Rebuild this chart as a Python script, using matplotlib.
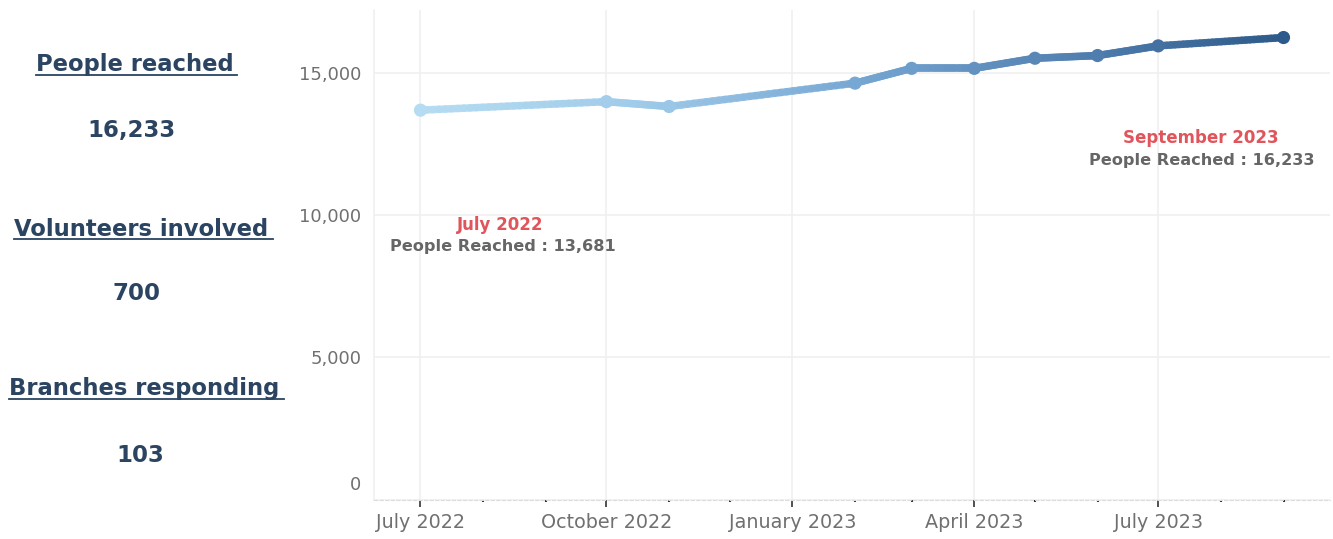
import matplotlib
matplotlib.use("Agg")
import matplotlib.pyplot as plt
import matplotlib.dates as mdates
from matplotlib.collections import LineCollection
from matplotlib.colors import LinearSegmentedColormap
from matplotlib.transforms import ScaledTranslation
from matplotlib.lines import Line2D
import numpy as np
import datetime as dt

# ---- data ----
months = ["2022-07-01", "2022-10-01", "2022-11-01", "2023-02-01", "2023-03-01",
          "2023-04-01", "2023-05-01", "2023-06-01", "2023-07-01", "2023-09-01"]
people_reached = [13681, 13980, 13810, 14630, 15150, 15150, 15505, 15600, 15940, 16233]

stat_labels = ["People reached", "Volunteers involved", "Branches responding"]
stat_values = ["16,233", "700", "103"]

y_ticks = [0, 5000, 10000, 15000]
x_ticks = ["2022-07-01", "2022-10-01", "2023-01-01", "2023-04-01", "2023-07-01"]
x_tick_labels = ["July 2022", "October 2022", "January 2023", "April 2023", "July 2023"]

first_note = ("July 2022", "People Reached : 13,681")
last_note = ("September 2023", "People Reached : 16,233")

# ---- style ----
FONT = "DejaVu Sans"
NAVY = "#2b4462"
RED = "#e0555b"
GREY = "#666666"
TICK_GREY = "#707070"
W, H = 1333, 539

plt.rcParams["font.family"] = [FONT]
fig = plt.figure(figsize=(W / 100, H / 100), dpi=100)

def fx(px):
    return px / W

def fy(py):
    return 1 - py / H

ax = fig.add_axes([fx(374), fy(499.6), fx(1330) - fx(374), fy(10) - fy(499.6)])

dates = [dt.datetime.strptime(m, "%Y-%m-%d") for m in months]
xn = mdates.date2num(dates)
yv = np.array(people_reached, dtype=float)

cmap = LinearSegmentedColormap.from_list(
    "grad", [(0.0, "#b5dcf2"), (0.25, "#a0cbea"), (0.5, "#77a8d4"), (0.75, "#5482b2"), (1.0, "#2d5a8a")])
x0, x1 = xn[0], xn[-1]

segs, cols = [], []
for i in range(len(xn) - 1):
    n = 30
    ts = np.linspace(0, 1, n + 1)
    sx = xn[i] + (xn[i + 1] - xn[i]) * ts
    sy = yv[i] + (yv[i + 1] - yv[i]) * ts
    for j in range(n):
        segs.append([(sx[j], sy[j]), (sx[j + 1], sy[j + 1])])
        cols.append(cmap(((sx[j] + sx[j + 1]) / 2 - x0) / (x1 - x0)))
lc = LineCollection(segs, colors=cols, linewidths=5.4, alpha=0.9, capstyle="round", zorder=3)
ax.add_collection(lc)
ax.scatter(xn, yv, s=90, c=[cmap((v - x0) / (x1 - x0)) for v in xn], zorder=4, linewidths=0)

ax.set_xlim(mdates.date2num(dt.datetime(2022, 6, 8)), mdates.date2num(dt.datetime(2023, 9, 24)))
ax.set_ylim(0, 17200)

xt = [mdates.date2num(dt.datetime.strptime(t, "%Y-%m-%d")) for t in x_ticks]
ax.set_xticks(xt)
ax.set_xticklabels(x_tick_labels)
ax.xaxis.set_minor_locator(mdates.MonthLocator())
ax.set_yticks(y_ticks)
ax.set_yticklabels([f"{v:,}" for v in y_ticks])

ax.grid(True, which="major", color="#efefef", linewidth=1.1)
ax.set_axisbelow(True)
for s in ["top", "right"]:
    ax.spines[s].set_visible(False)
ax.spines["left"].set_color("#efefef")
ax.spines["left"].set_linewidth(1.1)
ax.spines["bottom"].set_color("#dcdcdc")
ax.spines["bottom"].set_linestyle((0, (3, 2)))
ax.spines["bottom"].set_linewidth(0.8)

ax.tick_params(axis="x", which="major", length=5, width=1.2, color="#333333",
               labelsize=13.8, labelcolor=TICK_GREY, pad=5)
ax.tick_params(axis="x", which="minor", length=1.5, width=1.5, color="#333333")
ax.tick_params(axis="y", length=0, labelsize=13, labelcolor=TICK_GREY, pad=9)

# raise the "0" label like the reference
zl = ax.yaxis.get_major_ticks()[0].label1
zl.set_transform(zl.get_transform() + ScaledTranslation(0, 12 / 72, fig.dpi_scale_trans))

# annotations
fig.text(fx(500), fy(225), first_note[0], color=RED, fontsize=12, fontweight="bold",
         ha="center", va="center")
fig.text(fx(503), fy(247), first_note[1], color=GREY, fontsize=11.6, fontweight="bold",
         ha="center", va="center")
fig.text(fx(1201), fy(138), last_note[0], color=RED, fontsize=12, fontweight="bold",
         ha="center", va="center")
fig.text(fx(1202), fy(160), last_note[1], color=GREY, fontsize=11.6, fontweight="bold",
         ha="center", va="center")

# left stats panel
head_pos = [(134.5, 64, 75.5), (141.5, 229, 239.5), (144.5, 389, 399)]
val_pos = [(131, 131), (136, 294), (140, 455)]
heads = []
for (lab, (hx, hy, uy)) in zip(stat_labels, head_pos):
    t = fig.text(fx(hx), fy(hy), lab, color=NAVY, fontsize=16.3, fontweight="bold",
                 ha="center", va="center")
    heads.append((t, uy))
for v, (vx, vy) in zip(stat_values, val_pos):
    fig.text(fx(vx), fy(vy), v, color=NAVY, fontsize=16.5, fontweight="bold",
             ha="center", va="center")

fig.canvas.draw()
r = fig.canvas.get_renderer()
for t, uy in heads:
    bb = t.get_window_extent(r)
    fig.add_artist(Line2D([bb.x0 / W, (bb.x1 + 4) / W], [fy(uy), fy(uy)],
                          color=NAVY, linewidth=1.3, transform=fig.transFigure))

fig.savefig("out.png", dpi=100)
